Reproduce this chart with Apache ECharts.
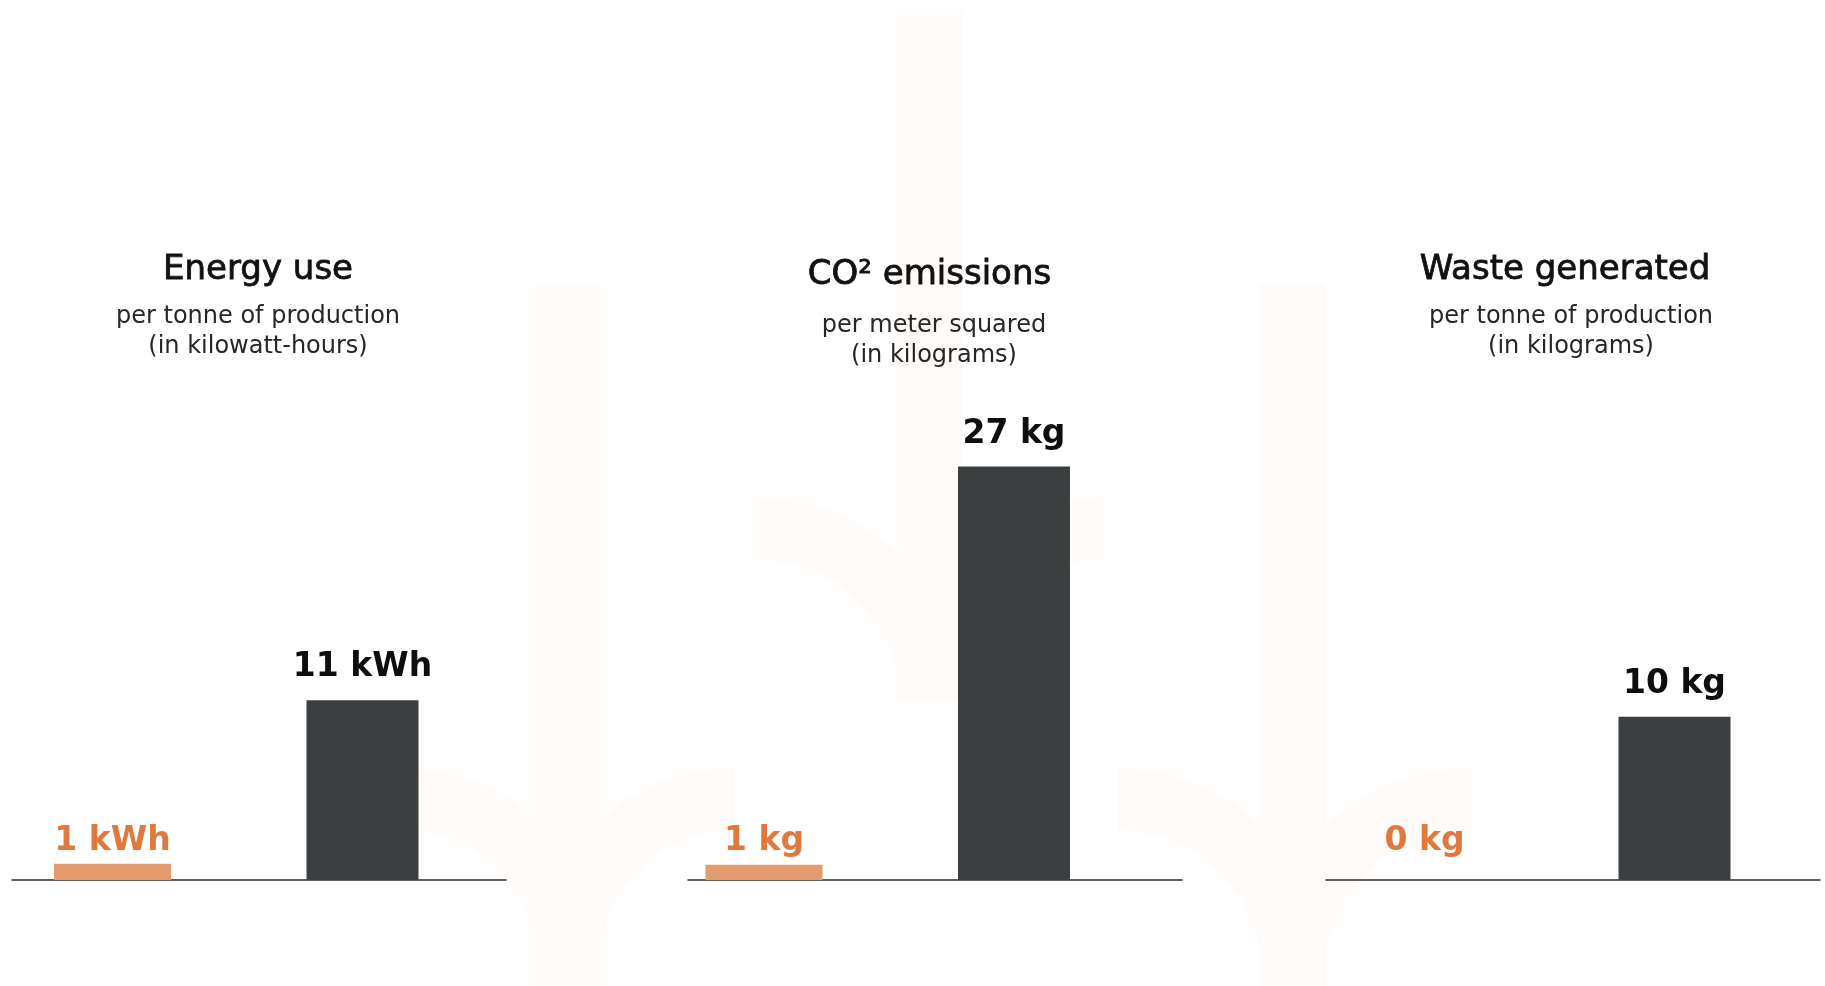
<!DOCTYPE html>
<html>
<head>
<meta charset="utf-8">
<script src="https://cdn.jsdelivr.net/npm/echarts@6/dist/echarts.min.js"></script>
<style>
html,body{margin:0;padding:0;background:#ffffff;}
#chart{width:1825px;height:986px;}
</style>
</head>
<body>
<div id="chart"></div>
<script>
// ---- data ----
const metrics = ['Energy use', 'CO² emissions', 'Waste generated'];
const subtitles = [
  'per tonne of production\n(in kilowatt-hours)',
  'per meter squared\n(in kilograms)',
  'per tonne of production\n(in kilograms)'
];
const units = ['kWh', 'kg', 'kg'];
const categories = ['Ours', 'Conventional'];
const oursValues = [1, 1, 0];
const conventionalValues = [11, 27, 10];
const axisMax = [30, 32, 30];

// ---- layout / style ----
const barGridLeft = [-12.5, 639, 1299.5];
const barGridWidth = 500;
const lineGridLeft = [12, 688, 1326];
const lineGridWidth = 494;
const titleX = [258, 929.5, 1565];
const titleY = [270, 275.5, 270];
const subX = [258, 934, 1571];
const subY = [302, 311, 302];

const ORANGE_BAR = '#E49B6D';
const ORANGE_TXT = '#E0793D';
const DARK = '#3B3F40';
const WM = '#FFFBF8';

const grid = [], xAxis = [], yAxis = [], series = [], graphic = [];

// faint watermark logos
function logo(cx, stemTop, stemBottom, armTop, R) {
  const w = 66, lw = 62;
  graphic.push({type: 'rect', silent: true, z: -10,
    shape: {x: cx - w / 2, y: stemTop, width: w, height: stemBottom - stemTop},
    style: {fill: WM}});
  const yc = armTop + lw / 2 + R;
  graphic.push({type: 'arc', silent: true, z: -10,
    shape: {cx: cx - R, cy: yc, r: R, startAngle: -Math.PI / 2, endAngle: 0, clockwise: true},
    style: {stroke: WM, lineWidth: lw, fill: null}});
  graphic.push({type: 'arc', silent: true, z: -10,
    shape: {cx: cx + R, cy: yc, r: R, startAngle: Math.PI, endAngle: Math.PI * 1.5, clockwise: true},
    style: {stroke: WM, lineWidth: lw, fill: null}});
}
logo(930, 9, 700, 498, 170);
logo(568.6, 283, 986, 768, 165);
logo(1293, 283, 986, 768, 175);

metrics.forEach((m, i) => {
  // bar grid
  grid.push({left: barGridLeft[i], width: barGridWidth, top: 390, bottom: 106, outerBoundsMode: 'none'});
  // baseline grid
  grid.push({left: lineGridLeft[i], width: lineGridWidth, top: 700, bottom: 106, outerBoundsMode: 'none'});

  const g = 2 * i;
  xAxis.push({gridIndex: g, type: 'category', data: categories, show: false});
  xAxis.push({gridIndex: g, type: 'category', data: categories, show: false});
  xAxis.push({gridIndex: g + 1, type: 'category', data: categories,
    axisLine: {show: true, lineStyle: {color: '#2E2E2E', width: 1.5}},
    axisTick: {show: false}, axisLabel: {show: false}, splitLine: {show: false}});
  yAxis.push({gridIndex: g, type: 'value', min: 0, max: axisMax[i], show: false});
  yAxis.push({gridIndex: g + 1, type: 'value', show: false});

  series.push({
    type: 'bar', name: categories[0],
    xAxisIndex: 3 * i, yAxisIndex: g,
    data: [oursValues[i], '-'],
    barWidth: 117,
    itemStyle: {color: ORANGE_BAR},
    label: {show: true, position: 'insideBottom', distance: 22,
      color: ORANGE_TXT, fontFamily: 'DejaVu Sans', fontWeight: 'bold', fontSize: 33,
      formatter: p => p.value + ' ' + units[i]},
    silent: true
  });
  series.push({
    type: 'bar', name: categories[1],
    xAxisIndex: 3 * i + 1, yAxisIndex: g,
    data: ['-', conventionalValues[i]],
    barWidth: 112,
    itemStyle: {color: DARK},
    label: {show: true, position: 'top', distance: 16,
      color: '#0E0E0E', fontFamily: 'DejaVu Sans', fontWeight: 'bold', fontSize: 33,
      formatter: p => p.value + ' ' + units[i]},
    silent: true
  });

  graphic.push({type: 'text', x: titleX[i], y: titleY[i], z: 10,
    style: {text: m, align: 'center', verticalAlign: 'middle',
      font: 'normal 34px "DejaVu Sans"', fill: '#111111', stroke: '#111111', lineWidth: 0.8}});
  graphic.push({type: 'text', x: subX[i], y: subY[i], z: 10,
    style: {text: subtitles[i], align: 'center', verticalAlign: 'top',
      font: 'normal 24px "DejaVu Sans"', lineHeight: 30, fill: '#262626'}});
});

const chart = echarts.init(document.getElementById('chart'), null, {renderer: 'canvas'});
chart.setOption({
  backgroundColor: '#ffffff',
  animation: false,
  grid, xAxis, yAxis, series, graphic
});
</script>
</body>
</html>
